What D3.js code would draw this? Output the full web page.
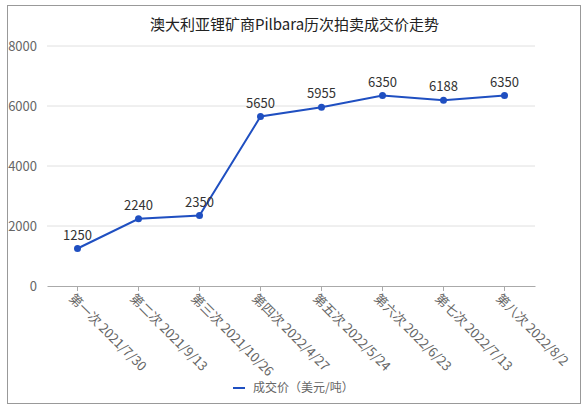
<!DOCTYPE html>
<html lang="zh">
<head>
<meta charset="UTF-8">
<script src="https://d3js.org/d3.v7.min.js"></script>
<style>
  body { margin: 0; background: #fff; }
  text { font-family: "Noto Sans CJK SC", "Noto Sans", sans-serif; }
</style>
</head>
<body>
<script>
  // chart data
  let rounds = ["第一次 2021/7/30", "第二次 2021/9/13", "第三次 2021/10/26", "第四次 2022/4/27",
                "第五次 2022/5/24", "第六次 2022/6/23", "第七次 2022/7/13", "第八次 2022/8/2"];
  let prices = [1250, 2240, 2350, 5650, 5955, 6350, 6188, 6350];
  let yTicks = [0, 2000, 4000, 6000, 8000];
  let seriesName = "成交价（美元/吨）";
  let title = "澳大利亚锂矿商Pilbara历次拍卖成交价走势";

  let width = 585, height = 410;
  let margin = {top: 46, right: 50, bottom: 124, left: 47};
  let chartWidth = width - margin.left - margin.right;
  let chartHeight = height - margin.top - margin.bottom;

  let svg = d3.select("body").append("svg")
    .attr("width", width).attr("height", height);

  // outer frame
  svg.append("rect")
    .attr("x", 7.5).attr("y", 5.5).attr("width", 573).attr("height", 398)
    .attr("fill", "none").attr("stroke", "#999");

  svg.append("text")
    .attr("x", width / 2 + 2).attr("y", 30)
    .attr("text-anchor", "middle")
    .style("font-size", "15px").style("fill", "#222")
    .text(title);

  let g = svg.append("g").attr("transform", `translate(${margin.left},${margin.top})`);

  let x = d3.scaleBand().domain(rounds).range([0, chartWidth]);
  let y = d3.scaleLinear().domain([0, 8000]).range([chartHeight, 0]);

  // gridlines
  g.selectAll(".grid").data(yTicks.slice(1)).enter().append("line")
    .attr("x1", 0).attr("x2", chartWidth)
    .attr("y1", d => y(d)).attr("y2", d => y(d))
    .attr("stroke", "#e0e0e0");

  let yAxis = g.append("g")
    .call(d3.axisLeft(y).tickValues(yTicks).tickFormat(d3.format("d")).tickSize(0).tickPadding(10));
  yAxis.select(".domain").remove();
  yAxis.selectAll("text").style("font-size", "13px").style("fill", "#666");

  let xAxis = g.append("g")
    .attr("transform", `translate(0,${chartHeight})`)
    .call(d3.axisBottom(x).tickSize(5).tickSizeOuter(0));
  xAxis.select(".domain").attr("stroke", "#aaa");
  xAxis.selectAll(".tick line").attr("stroke", "#aaa");
  xAxis.selectAll("text")
    .style("font-size", "13px").style("fill", "#666")
    .style("text-anchor", "start")
    .attr("x", 0).attr("y", 0).attr("dy", "0.35em")
    .attr("transform", "translate(-6,10) rotate(45)");

  let line = d3.line()
    .x((d, i) => x(rounds[i]) + x.bandwidth() / 2)
    .y(d => y(d));

  g.append("path").datum(prices)
    .attr("d", line).attr("fill", "none")
    .attr("stroke", "#1f4fc1").attr("stroke-width", 2);

  g.selectAll(".pt").data(prices).enter().append("circle")
    .attr("cx", (d, i) => x(rounds[i]) + x.bandwidth() / 2)
    .attr("cy", d => y(d)).attr("r", 3.5)
    .attr("fill", "#1f4fc1");

  g.selectAll(".lbl").data(prices).enter().append("text")
    .attr("x", (d, i) => x(rounds[i]) + x.bandwidth() / 2)
    .attr("y", d => y(d) - 9)
    .attr("text-anchor", "middle")
    .style("font-size", "13px").style("fill", "#333")
    .text(d => d);

  // legend
  let lg = svg.append("g").attr("transform", "translate(233,388)");
  lg.append("line").attr("x1", 0).attr("x2", 12).attr("y1", 0).attr("y2", 0)
    .attr("stroke", "#1f4fc1").attr("stroke-width", 2);
  lg.append("text").attr("x", 20).attr("y", 0).attr("dy", "0.35em")
    .style("font-size", "12px").style("fill", "#666")
    .text(seriesName);
</script>
</body>
</html>
